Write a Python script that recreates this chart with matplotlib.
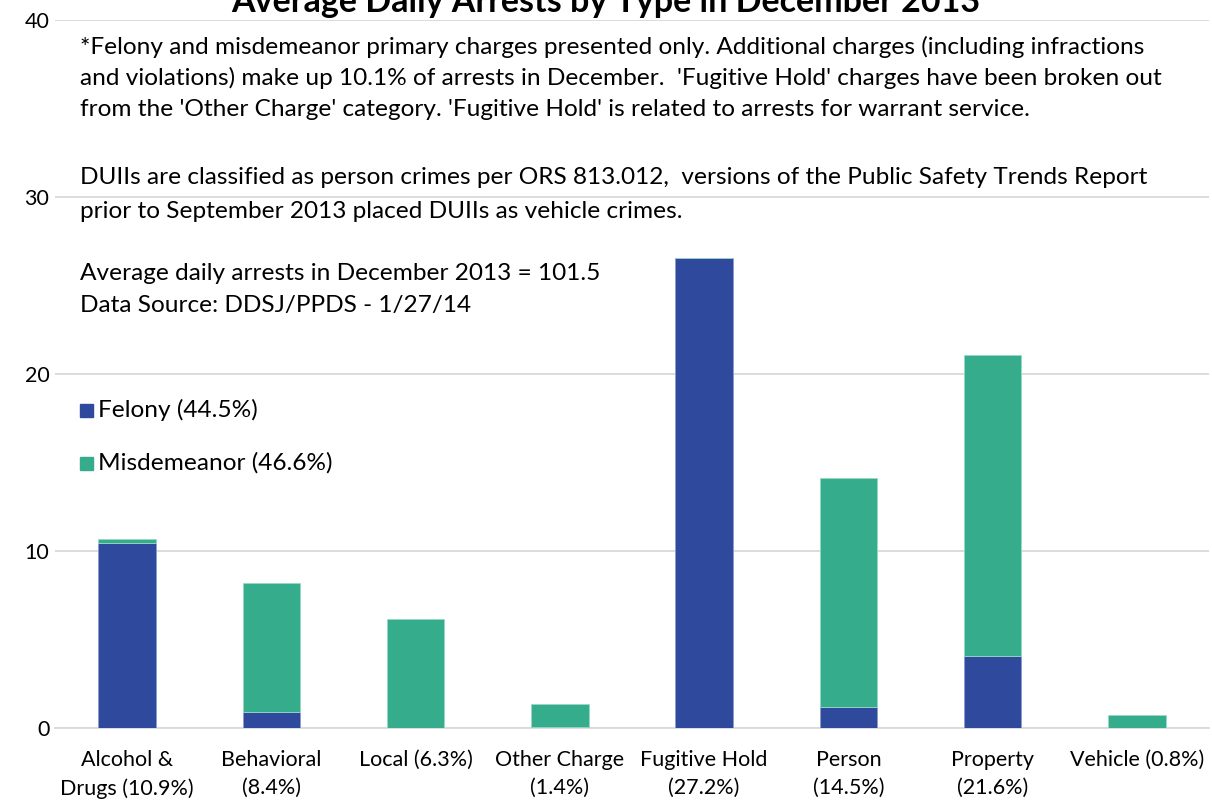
import matplotlib.pyplot as plt
import numpy as np

plt.rcParams["font.family"] = ["Lato", "DejaVu Sans"]

categories = [
    "Alcohol &\nDrugs (10.9%)",
    "Behavioral\n(8.4%)",
    "Local (6.3%)",
    "Other Charge\n(1.4%)",
    "Fugitive Hold\n(27.2%)",
    "Person\n(14.5%)",
    "Property\n(21.6%)",
    "Vehicle (0.8%)",
]
felony = [10.45, 0.88, 0.0, 0.08, 26.57, 1.17, 4.07, 0.0]
misdemeanor = [0.23, 7.31, 6.16, 1.26, 0.0, 12.93, 17.0, 0.75]

FELONY_COLOR = "#2F4A9D"
MISD_COLOR = "#35AD8D"
GRID_COLOR = "#D9D9D9"

note_lines = [
    "*Felony and misdemeanor primary charges presented only. Additional charges (including infractions",
    "and violations) make up 10.1% of arrests in December.  'Fugitive Hold' charges have been broken out",
    "from the 'Other Charge' category. 'Fugitive Hold' is related to arrests for warrant service.",
]
duii_lines = [
    "DUIIs are classified as person crimes per ORS 813.012,  versions of the Public Safety Trends Report",
    "prior to September 2013 placed DUIIs as vehicle crimes.",
]
source_lines = [
    "Average daily arrests in December 2013 = 101.5",
    "Data Source: DDSJ/PPDS - 1/27/14",
]

W, H = 1212, 801
fig = plt.figure(figsize=(W / 100, H / 100), dpi=100)
ax = fig.add_axes([55 / W, 1 - 728 / H, (1209 - 55) / W, (728 - 20) / H])

x = np.arange(len(categories))
ax.bar(x, felony, width=0.4, color=FELONY_COLOR, edgecolor="#8C9BD0", linewidth=0.6, zorder=3)
ax.bar(x, misdemeanor, width=0.4, bottom=felony, color=MISD_COLOR, edgecolor="#9AD9C6",
       linewidth=0.6, zorder=3)

tick_fs = 15.5
ax.set_xlim(-0.5, 7.5)
ax.set_ylim(0, 40)
ax.set_yticks([0, 10, 20, 30, 40])
ax.set_xticks(x)
ax.set_xticklabels(categories, fontsize=tick_fs, linespacing=1.5)
ax.tick_params(axis="y", labelsize=tick_fs, length=0, pad=4)
ax.tick_params(axis="x", length=0, pad=16)
ax.grid(axis="y", color=GRID_COLOR, linewidth=1.3, zorder=0)
for side in ["top", "right", "left"]:
    ax.spines[side].set_visible(False)
ax.spines["bottom"].set_color(GRID_COLOR)
ax.spines["bottom"].set_linewidth(1.3)

fig.text(606 / W, 1 - 2 / H, "Average Daily Arrests by Type in December 2013", ha="center",
         va="center", fontsize=24.5, fontweight="bold")

fs = 17.6
for i, line in enumerate(note_lines):
    fig.text(80 / W, 1 - (47 + 31 * i) / H, line, ha="left", va="center", fontsize=fs)
for i, line in enumerate(duii_lines):
    fig.text(80 / W, 1 - (177 + 34 * i) / H, line, ha="left", va="center", fontsize=fs)
for i, line in enumerate(source_lines):
    fig.text(80 / W, 1 - (273 + 32 * i) / H, line, ha="left", va="center", fontsize=fs)

# legend drawn as squares + text, placed inside the plot like the original
for ypix, label, color in [(410, "Felony (44.5%)", FELONY_COLOR),
                           (463, "Misdemeanor (46.6%)", MISD_COLOR)]:
    fig.patches.append(plt.Rectangle((80 / W, 1 - (ypix + 7) / H), 13 / W, 13 / H,
                                     transform=fig.transFigure, color=color))
    fig.text(98 / W, 1 - ypix / H, label, ha="left", va="center", fontsize=fs)

fig.savefig("out.png", dpi=100)
